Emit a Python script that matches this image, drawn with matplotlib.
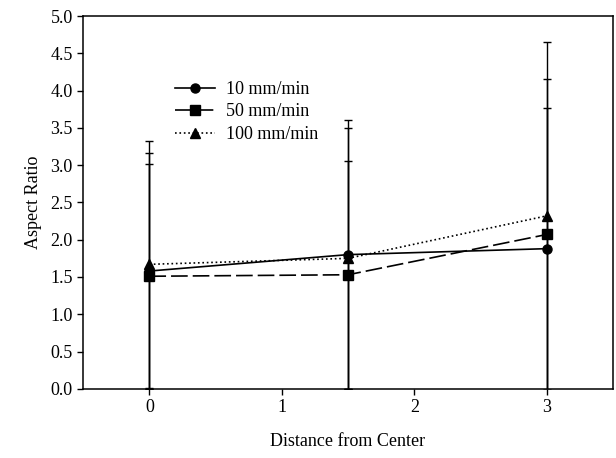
import matplotlib
matplotlib.use("Agg")
from matplotlib import pyplot as plt

plt.rcParams['font.family'] = ['Liberation Serif', 'DejaVu Serif']

# distance from center
dist = [0, 1.5, 3]

# mean aspect ratio per feed rate
ar10 = [1.58, 1.80, 1.88]
ar50 = [1.51, 1.53, 2.07]
ar100 = [1.67, 1.75, 2.32]

# standard deviations (read from upper caps)
sd10 = [1.58, 1.80, 1.89]
sd50 = [1.51, 1.53, 2.09]
sd100 = [1.66, 1.75, 2.33]

labels = ["10 mm/min", "50 mm/min", "100 mm/min"]

fig = plt.figure(figsize=(6.16, 4.58), dpi=100)
ax = fig.add_axes([0.135, 0.151, 0.86, 0.814])

common = dict(color='black', lw=1.2, elinewidth=1.0, capsize=3, capthick=1.0, ms=6.5)
e1 = ax.errorbar(dist, ar10, yerr=sd10, fmt='-o', label=labels[0], **common)
e2 = ax.errorbar(dist, ar50, yerr=sd50, fmt='s', ls=(0, (10, 3)), label=labels[1], **common)
e3 = ax.errorbar(dist, ar100, yerr=sd100, fmt='^', ls=':', label=labels[2], **common)

ax.set_xlim(-0.5, 3.5)
ax.set_ylim(0, 5.0)
ax.set_xticks([0, 1, 2, 3])
ax.set_yticks([i * 0.5 for i in range(11)])
ax.set_yticklabels(["%.1f" % (i * 0.5) for i in range(11)])
ax.tick_params(direction='out', length=4, labelsize=13, width=1)
for s in ax.spines.values():
    s.set_linewidth(1.1)

ax.set_xlabel("Distance from Center", fontsize=13, labelpad=12)
ax.set_ylabel("Aspect Ratio", fontsize=13, labelpad=6)

# legend without the error bars
handles = [e1[0], e2[0], e3[0]]
ax.legend(handles, labels, loc='upper left', bbox_to_anchor=(0.16, 0.845), frameon=False,
          fontsize=13, handlelength=2.2, labelspacing=0.3, handletextpad=0.6,
          borderaxespad=0)

plt.savefig("out.png", dpi=100)
